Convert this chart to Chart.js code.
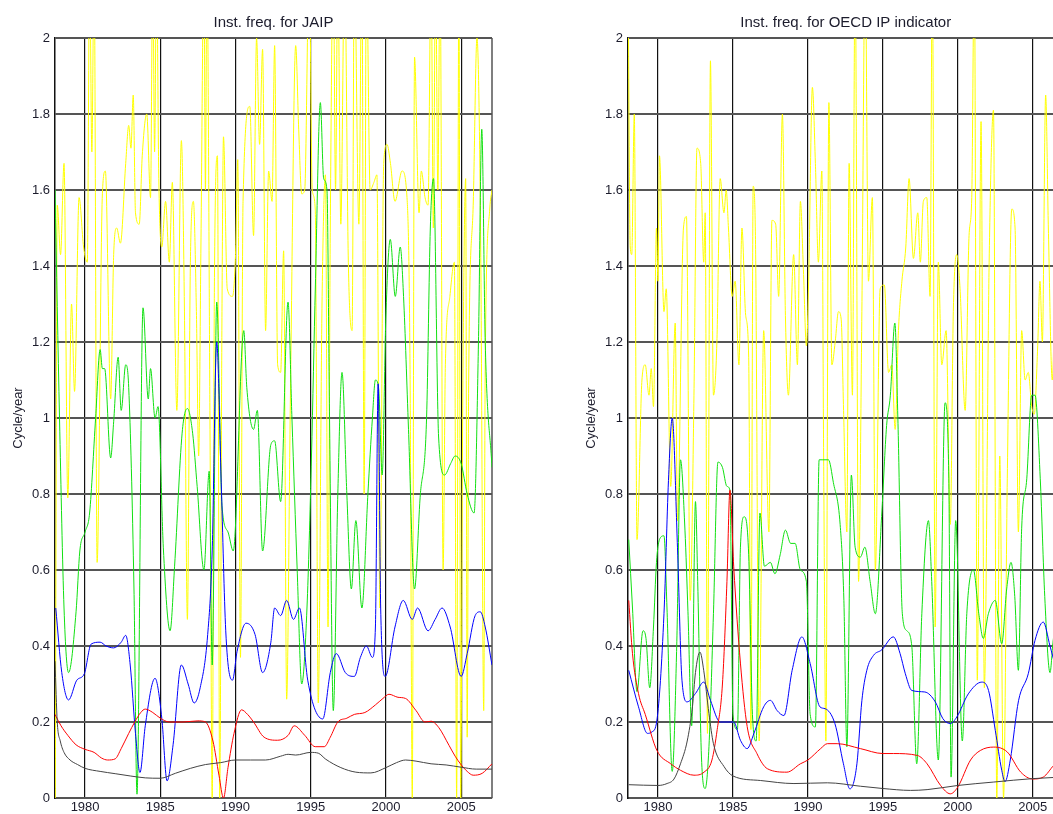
<!DOCTYPE html>
<html>
<head>
<meta charset="utf-8">
<title>Inst. freq.</title>
<script src="https://cdn.jsdelivr.net/npm/chart.js@4.4.1/dist/chart.umd.min.js"></script>
<style>
  html, body { margin: 0; padding: 0; background: #fff; overflow: hidden; }
  body { width: 1053px; height: 814px; position: relative; }
  canvas { position: absolute; top: 0; }
  #jaipChart { left: 0; }
  #oecdChart { left: 560px; }
</style>
</head>
<body>
<canvas id="jaipChart" width="540" height="814"></canvas>
<canvas id="oecdChart" width="540" height="814"></canvas>
<script>
const xTicks = [1980, 1985, 1990, 1995, 2000, 2005];
const yTicks = [0, 0.2, 0.4, 0.6, 0.8, 1, 1.2, 1.4, 1.6, 1.8, 2];

// ---- JAIP (left panel) ----
const jaipBlackYears = [1978.0, 1978.15, 1978.35, 1978.6, 1979.0, 1979.5, 1980.0, 1981.0, 1982.0, 1983.0, 1984.0, 1985.0, 1986.0, 1987.0, 1988.0, 1989.0, 1990.0, 1991.0, 1992.0, 1993.0, 1993.5, 1994.0, 1995.0, 1995.5, 1996.0, 1997.0, 1998.0, 1999.0, 2000.0, 2000.7, 2001.3, 2002.0, 2003.0, 2004.0, 2005.0, 2006.0, 2007.05];
const jaipBlack = [0.36, 0.2, 0.15, 0.12, 0.1, 0.088, 0.078, 0.07, 0.064, 0.058, 0.053, 0.052, 0.065, 0.078, 0.088, 0.093, 0.1, 0.1, 0.1, 0.11, 0.115, 0.113, 0.12, 0.118, 0.102, 0.08, 0.068, 0.066, 0.08, 0.093, 0.1, 0.097, 0.09, 0.087, 0.081, 0.076, 0.076];

const jaipRedYears = [1978.0, 1978.4, 1978.85, 1979.4, 1980.0, 1980.6, 1981.1, 1981.5, 1982.0, 1982.4, 1982.9, 1983.3, 1983.7, 1984.0, 1984.5, 1985.0, 1985.6, 1986.5, 1987.5, 1988.0, 1988.5, 1988.9, 1989.2, 1989.5, 1989.9, 1990.4, 1990.8, 1991.2, 1991.9, 1992.8, 1993.5, 1993.9, 1994.6, 1995.3, 1995.9, 1996.3, 1996.8, 1997.4, 1997.9, 1998.6, 1999.3, 1999.8, 2000.2, 2000.8, 2001.3, 2002.0, 2002.6, 2003.0, 2003.5, 2004.2, 2004.6, 2004.95, 2005.4, 2005.8, 2006.4, 2007.05];
const jaipRed = [0.22, 0.19, 0.165, 0.14, 0.128, 0.12, 0.105, 0.1, 0.103, 0.13, 0.17, 0.2, 0.225, 0.234, 0.225, 0.21, 0.2, 0.2, 0.203, 0.2, 0.15, 0.06, 0.0, 0.08, 0.17, 0.232, 0.22, 0.2, 0.16, 0.152, 0.165, 0.19, 0.165, 0.135, 0.135, 0.16, 0.2, 0.21, 0.22, 0.225, 0.245, 0.262, 0.273, 0.265, 0.262, 0.23, 0.2, 0.202, 0.186, 0.138, 0.11, 0.09, 0.07, 0.06, 0.065, 0.09];

const jaipBlueYears = [1978.05, 1978.45, 1978.9, 1979.45, 1979.95, 1980.4, 1981.0, 1981.4, 1981.9, 1982.4, 1982.7, 1983.0, 1983.35, 1983.65, 1984.0, 1984.65, 1985.1, 1985.45, 1985.85, 1986.4, 1986.85, 1987.25, 1987.65, 1988.15, 1988.45, 1988.75, 1989.05, 1989.35, 1989.8, 1990.1, 1990.7, 1991.3, 1991.8, 1992.35, 1992.6, 1993.0, 1993.4, 1993.85, 1994.25, 1994.8, 1995.8, 1996.3, 1996.7, 1997.3, 1997.9, 1998.3, 1998.7, 1999.1, 1999.3, 1999.48, 1999.65, 1999.95, 2000.6, 2001.15, 2001.75, 2002.1, 2002.8, 2003.27, 2003.73, 2004.27, 2005.0, 2005.4, 2005.93, 2006.27, 2006.6, 2007.05];
const jaipBlue = [0.50, 0.33, 0.258, 0.31, 0.327, 0.405, 0.41, 0.40, 0.395, 0.41, 0.428, 0.35, 0.17, 0.067, 0.19, 0.315, 0.21, 0.045, 0.14, 0.35, 0.30, 0.25, 0.29, 0.43, 0.65, 1.2, 0.83, 0.44, 0.31, 0.385, 0.46, 0.43, 0.33, 0.41, 0.50, 0.48, 0.52, 0.47, 0.50, 0.31, 0.208, 0.33, 0.38, 0.33, 0.32, 0.37, 0.40, 0.37, 0.45, 1.09, 0.5, 0.32, 0.45, 0.52, 0.47, 0.50, 0.44, 0.47, 0.50, 0.45, 0.32, 0.38, 0.48, 0.49, 0.45, 0.35];

const jaipGreenYears = [1978.0, 1978.3, 1978.6, 1978.9, 1979.4, 1979.65, 1980.0, 1980.3, 1980.7, 1981.0, 1981.15, 1981.3, 1981.7, 1981.9, 1982.2, 1982.4, 1982.7, 1982.9, 1983.25, 1983.45, 1983.85, 1984.2, 1984.35, 1984.65, 1984.85, 1985.2, 1985.65, 1985.95, 1986.45, 1986.8, 1987.15, 1987.45, 1987.9, 1988.25, 1988.45, 1988.75, 1989.1, 1989.5, 1989.85, 1990.55, 1990.75, 1991.2, 1991.45, 1991.8, 1992.35, 1992.6, 1993.0, 1993.49, 1993.75, 1994.1, 1994.4, 1994.75, 1995.05, 1995.31, 1995.64, 1995.86, 1996.08, 1996.25, 1996.5, 1996.8, 1997.08, 1997.4, 1997.7, 1998.0, 1998.4, 1998.8, 1999.1, 1999.3, 1999.51, 1999.75, 1999.99, 2000.29, 2000.62, 2000.95, 2001.17, 2001.5, 2001.9, 2002.27, 2002.7, 2002.95, 2003.16, 2003.5, 2003.9, 2004.3, 2004.6, 2005.0, 2005.4, 2005.86, 2006.15, 2006.37, 2006.6, 2007.05];
const jaipGreen = [1.6, 1.0, 0.5, 0.33, 0.49, 0.65, 0.7, 0.75, 1.0, 1.18, 1.13, 1.13, 0.895, 0.99, 1.16, 1.02, 1.14, 1.08, 0.55, 0.01, 1.29, 1.05, 1.13, 1.0, 1.03, 0.66, 0.44, 0.61, 0.96, 1.025, 0.96, 0.82, 0.6, 0.86, 0.35, 1.305, 0.77, 0.7, 0.65, 1.23, 1.08, 0.97, 1.02, 0.65, 0.93, 0.94, 0.78, 1.305, 1.0, 0.6, 0.3, 0.5, 0.9, 1.35, 1.83, 1.63, 1.6, 1.0, 0.23, 0.8, 1.12, 0.8, 0.55, 0.73, 0.5, 0.8, 1.0, 1.1, 1.08, 0.85, 1.26, 1.47, 1.32, 1.45, 1.32, 0.97, 0.55, 0.79, 1.0, 1.5, 1.63, 0.95, 0.85, 0.88, 0.9, 0.88, 0.8, 0.75, 1.2, 1.76, 1.2, 0.87];

const jaipYellowYears = [1978.02, 1978.15, 1978.37, 1978.6, 1978.85, 1979.1, 1979.3, 1979.6, 1979.9, 1980.15, 1980.3, 1980.45, 1980.6, 1980.8, 1981.15, 1981.35, 1981.7, 1981.9, 1982.1, 1982.35, 1982.7, 1982.9, 1983.05, 1983.2, 1983.35, 1983.6, 1983.8, 1984.1, 1984.35, 1984.5, 1984.62, 1984.75, 1984.9, 1985.1, 1985.35, 1985.6, 1985.8, 1986.1, 1986.4, 1986.6, 1986.8, 1987.0, 1987.2, 1987.4, 1987.55, 1987.7, 1987.9, 1988.0, 1988.1, 1988.3, 1988.45, 1988.6, 1988.8, 1988.95, 1989.1, 1989.2, 1989.45, 1989.8, 1990.0, 1990.15, 1990.33, 1990.5, 1990.95, 1991.2, 1991.4, 1991.6, 1991.8, 1992.0, 1992.2, 1992.43, 1992.6, 1992.8, 1993.0, 1993.2, 1993.4, 1993.65, 1994.0, 1994.2, 1994.4, 1994.6, 1994.9, 1995.1, 1995.3, 1995.5, 1995.75, 1995.98, 1996.15, 1996.3, 1996.5, 1996.65, 1996.8, 1997.0, 1997.25, 1997.5, 1997.75, 1997.9, 1998.2, 1998.4, 1998.55, 1998.7, 1998.95, 1999.2, 1999.4, 1999.6, 1999.85, 2000.07, 2000.3, 2000.6, 2001.07, 2001.4, 2001.6, 2001.75, 2001.9, 2002.2, 2002.35, 2002.6, 2002.8, 2003.0, 2003.15, 2003.3, 2003.45, 2003.6, 2003.8, 2003.95, 2004.25, 2004.55, 2004.7, 2004.85, 2004.97, 2005.1, 2005.3, 2005.4, 2005.5, 2005.8, 2006.05, 2006.3, 2006.5, 2006.6, 2006.9, 2007.05];
const jaipYellow = [0.0, 1.56, 1.43, 1.67, 0.79, 1.30, 1.07, 1.58, 1.45, 1.41, 2.2, 1.7, 2.2, 0.62, 1.59, 1.65, 1.05, 1.43, 1.5, 1.46, 1.67, 1.77, 1.71, 1.85, 1.54, 1.51, 1.69, 1.8, 1.58, 2.2, 1.7, 2.2, 1.63, 1.45, 1.57, 1.41, 1.62, 1.02, 1.73, 1.3, 0.47, 1.41, 1.57, 1.28, 0.9, 1.45, 2.2, 1.6, 2.2, 1.0, 0.0, 1.37, 1.69, 0.0, 1.28, 1.74, 1.34, 1.32, 1.43, 1.68, 0.37, 1.57, 1.82, 1.48, 2.0, 1.72, 1.97, 1.23, 1.65, 1.57, 1.98, 1.14, 1.12, 1.44, 0.26, 1.06, 1.98, 1.76, 1.59, 1.6, 2.2, 1.6, 1.55, 0.25, 1.3, 1.64, 0.45, 1.5, 2.2, 1.6, 2.2, 1.51, 2.2, 1.41, 1.23, 2.2, 1.51, 2.2, 0.8, 2.2, 1.6, 1.62, 1.64, 0.5, 1.67, 1.72, 1.67, 1.57, 1.65, 1.58, 1.14, 0.0, 1.95, 1.54, 1.65, 1.58, 1.56, 2.2, 1.5, 2.2, 1.6, 2.2, 0.6, 1.14, 1.32, 1.41, 0.0, 2.2, 0.0, 1.0, 1.63, 0.16, 1.1, 1.56, 2.0, 1.45, 0.23, 1.14, 1.55, 1.6];

// ---- OECD IP indicator (right panel) ----
const oecdBlackYears = [1978.05, 1980.0, 1980.6, 1981.07, 1981.5, 1981.95, 1982.3, 1982.5, 1982.8, 1983.05, 1983.4, 1983.7, 1984.4, 1985.0, 1986.85, 1989.07, 1991.3, 1993.5, 1995.0, 1996.85, 1997.95, 2000.0, 2002.4, 2005.0, 2006.4, 2007.05];
const oecdBlack = [0.035, 0.033, 0.038, 0.05, 0.09, 0.15, 0.24, 0.33, 0.384, 0.336, 0.222, 0.143, 0.083, 0.058, 0.046, 0.038, 0.04, 0.031, 0.025, 0.02, 0.022, 0.033, 0.042, 0.051, 0.054, 0.056];

const oecdRedYears = [1978.05, 1978.3, 1978.7, 1979.15, 1979.93, 1980.85, 1981.5, 1982.4, 1983.07, 1983.6, 1983.95, 1984.3, 1984.6, 1984.8, 1985.05, 1985.5, 1985.95, 1986.6, 1987.3, 1988.6, 1989.5, 1990.0, 1990.85, 1991.3, 1991.95, 1993.5, 1995.0, 1995.7, 1997.3, 1997.95, 1998.85, 1999.5, 2000.0, 2000.85, 2001.5, 2002.4, 2003.3, 2004.2, 2005.0, 2005.7, 2006.4, 2007.05];
const oecdRed = [0.52, 0.38, 0.275, 0.22, 0.125, 0.09, 0.073, 0.06, 0.068, 0.1, 0.18, 0.3, 0.57, 0.81, 0.61, 0.355, 0.188, 0.117, 0.077, 0.068, 0.09, 0.1, 0.13, 0.143, 0.143, 0.13, 0.117, 0.117, 0.112, 0.09, 0.033, 0.011, 0.029, 0.1, 0.125, 0.134, 0.121, 0.068, 0.05, 0.055, 0.086, 0.11];

const oecdBlueYears = [1978.05, 1978.7, 1979.3, 1979.6, 1979.93, 1980.4, 1980.7, 1980.95, 1981.3, 1981.6, 1981.95, 1982.5, 1983.05, 1983.5, 1984.15, 1985.05, 1985.5, 1985.95, 1986.4, 1987.05, 1987.5, 1987.95, 1988.4, 1988.95, 1989.6, 1990.15, 1990.8, 1991.15, 1991.8, 1992.37, 1992.8, 1993.27, 1993.6, 1993.93, 1994.37, 1994.93, 1995.7, 1996.15, 1996.5, 1996.93, 1997.8, 1998.5, 1999.0, 1999.5, 1999.93, 2000.7, 2001.6, 2002.05, 2002.5, 2002.93, 2003.15, 2003.5, 2004.05, 2004.7, 2005.15, 2005.7, 2006.15, 2006.5, 2007.05];
const oecdBlue = [0.336, 0.24, 0.17, 0.174, 0.205, 0.485, 0.836, 1.0, 0.66, 0.31, 0.253, 0.275, 0.305, 0.257, 0.2, 0.2, 0.152, 0.13, 0.17, 0.24, 0.257, 0.23, 0.217, 0.336, 0.424, 0.354, 0.24, 0.235, 0.196, 0.09, 0.024, 0.09, 0.256, 0.336, 0.375, 0.39, 0.424, 0.38, 0.327, 0.283, 0.279, 0.253, 0.209, 0.196, 0.213, 0.274, 0.305, 0.283, 0.178, 0.073, 0.043, 0.1, 0.256, 0.327, 0.415, 0.463, 0.4, 0.35, 0.3];

const oecdGreenYears = [1978.05, 1978.3, 1978.6, 1979.0, 1979.2, 1979.45, 1979.7, 1979.9, 1980.1, 1980.4, 1980.6, 1980.95, 1981.25, 1981.5, 1981.8, 1982.0, 1982.25, 1982.5, 1982.65, 1982.9, 1983.15, 1983.4, 1983.7, 1984.0, 1984.3, 1984.6, 1984.8, 1985.0, 1985.3, 1985.5, 1985.75, 1986.05, 1986.3, 1986.55, 1986.8, 1987.1, 1987.5, 1987.8, 1988.15, 1988.5, 1988.85, 1989.15, 1989.5, 1989.9, 1990.15, 1990.5, 1990.75, 1991.0, 1991.37, 1991.7, 1992.15, 1992.4, 1992.6, 1992.9, 1993.15, 1993.5, 1993.8, 1994.15, 1994.5, 1994.93, 1995.25, 1995.5, 1995.8, 1996.0, 1996.3, 1996.6, 1996.93, 1997.26, 1997.6, 1998.04, 1998.26, 1998.7, 1999.15, 1999.4, 1999.55, 1999.86, 2000.3, 2000.6, 2001.04, 2001.4, 2001.7, 2002.04, 2002.5, 2002.93, 2003.26, 2003.55, 2003.8, 2004.04, 2004.26, 2004.6, 2004.93, 2005.15, 2005.5, 2005.8, 2006.15, 2006.35, 2006.7, 2007.05];
const oecdGreen = [0.68, 0.5, 0.28, 0.44, 0.42, 0.29, 0.45, 0.62, 0.68, 0.69, 0.5, 0.07, 0.4, 0.89, 0.705, 0.49, 0.19, 0.78, 0.57, 0.108, 0.025, 0.135, 0.485, 0.884, 0.87, 0.82, 0.81, 0.22, 0.18, 0.66, 0.74, 0.64, 0.22, 0.15, 0.75, 0.61, 0.62, 0.59, 0.64, 0.705, 0.67, 0.67, 0.6, 0.57, 0.22, 0.187, 0.89, 0.89, 0.89, 0.83, 0.72, 0.52, 0.135, 0.85, 0.66, 0.634, 0.66, 0.57, 0.485, 0.75, 0.98, 1.06, 1.25, 1.0, 0.485, 0.44, 0.4, 0.09, 0.485, 0.73, 0.57, 0.1, 1.04, 0.84, 0.055, 0.73, 0.15, 0.485, 0.6, 0.485, 0.42, 0.485, 0.52, 0.406, 0.55, 0.62, 0.53, 0.336, 0.71, 0.84, 1.06, 1.06, 0.84, 0.53, 0.33, 0.41, 0.5, 0.45];

const oecdYellowYears = [1978.0, 1978.15, 1978.25, 1978.42, 1978.6, 1978.93, 1979.15, 1979.4, 1979.55, 1979.7, 1979.9, 1980.0, 1980.1, 1980.4, 1980.55, 1980.85, 1981.15, 1981.3, 1981.7, 1981.9, 1982.15, 1982.4, 1982.6, 1982.85, 1983.05, 1983.15, 1983.3, 1983.5, 1983.7, 1983.93, 1984.15, 1984.4, 1984.55, 1984.7, 1984.95, 1985.15, 1985.4, 1985.6, 1985.85, 1986.05, 1986.2, 1986.35, 1986.5, 1986.75, 1987.05, 1987.4, 1987.6, 1987.85, 1988.05, 1988.3, 1988.5, 1988.7, 1989.05, 1989.3, 1989.5, 1989.7, 1989.9, 1990.05, 1990.3, 1990.5, 1990.7, 1990.93, 1991.05, 1991.2, 1991.4, 1991.6, 1991.82, 1992.04, 1992.22, 1992.38, 1992.6, 1992.75, 1992.97, 1993.15, 1993.38, 1993.6, 1993.82, 1994.04, 1994.3, 1994.5, 1994.82, 1995.1, 1995.38, 1995.6, 1995.82, 1996.04, 1996.27, 1996.53, 1996.75, 1997.04, 1997.33, 1997.5, 1997.7, 1997.93, 1998.15, 1998.3, 1998.49, 1998.7, 1998.93, 1999.22, 1999.5, 1999.7, 1999.93, 2000.15, 2000.49, 2000.75, 2000.93, 2001.1, 2001.3, 2001.55, 2001.77, 2002.09, 2002.38, 2002.6, 2002.8, 2003.05, 2003.3, 2003.6, 2003.82, 2004.04, 2004.26, 2004.49, 2004.7, 2004.93, 2005.1, 2005.33, 2005.48, 2005.64, 2005.86, 2006.04, 2006.3, 2006.6, 2007.05];
const oecdYellow = [2.2, 1.45, 1.43, 1.8, 0.68, 1.1, 1.14, 1.06, 1.13, 1.03, 1.5, 1.36, 1.69, 1.28, 1.34, 0.82, 1.25, 0.73, 1.5, 1.53, 0.52, 1.06, 1.71, 1.67, 1.41, 1.54, 0.17, 1.94, 1.06, 1.2, 1.63, 1.54, 1.6, 1.5, 1.32, 1.36, 1.14, 1.5, 1.27, 1.16, 0.18, 1.61, 1.48, 0.15, 1.23, 0.7, 1.52, 1.51, 1.32, 1.8, 1.27, 1.06, 1.43, 1.14, 1.57, 1.39, 1.19, 1.36, 1.87, 1.67, 1.41, 1.65, 0.9, 0.15, 1.83, 1.14, 1.2, 1.28, 1.26, 1.02, 0.7, 1.67, 1.06, 2.2, 0.57, 1.28, 2.2, 1.36, 1.58, 0.6, 1.34, 1.35, 1.12, 1.14, 0.97, 1.23, 1.36, 1.45, 1.63, 1.42, 1.54, 1.41, 1.57, 1.58, 1.32, 2.2, 0.45, 1.41, 1.14, 1.23, 0.72, 1.28, 1.43, 1.34, 1.02, 1.48, 1.58, 2.2, 0.31, 1.78, 0.29, 1.41, 1.81, 0.0, 0.9, 0.0, 0.84, 1.55, 1.5, 0.7, 1.23, 1.1, 1.12, 1.03, 1.01, 1.19, 1.36, 1.2, 1.85, 1.5, 1.1, 1.5, 1.2];

const fontFamily = '"Liberation Sans", Arial, sans-serif';
const textColor = '#1c1c2c';

// right edge of the plot box (MATLAB axes frame)
const frame = {
    id: 'frame',
    beforeDatasetsDraw(chart) {
        const { ctx, chartArea: a } = chart;
        ctx.save();
        ctx.strokeStyle = '#555';
        ctx.lineWidth = 1.5;
        ctx.beginPath();
        ctx.moveTo(a.right, a.top);
        ctx.lineTo(a.right, a.bottom);
        ctx.stroke();
        ctx.restore();
    }
};

function line(years, values, color) {
    return {
        data: years.map((x, i) => ({ x: x, y: values[i] })),
        borderColor: color,
        borderWidth: 1,
        pointRadius: 0,
        fill: false,
        cubicInterpolationMode: 'monotone'
    };
}

function makeChart(id, title, datasets, axisWidth, rightPad, labelPad) {
    return new Chart(document.getElementById(id), {
        type: 'line',
        data: { datasets: datasets },
        options: {
            responsive: false,
            animation: false,
            events: [],
            layout: { padding: { left: 0, right: rightPad, top: 0, bottom: 0 } },
            plugins: {
                legend: { display: false },
                tooltip: { enabled: false },
                title: {
                    display: true,
                    text: title,
                    fullSize: false,
                    color: textColor,
                    font: { family: fontFamily, size: 15, weight: 'normal', lineHeight: 1.2 },
                    padding: { top: 14, bottom: 6 }
                }
            },
            scales: {
                x: {
                    type: 'linear',
                    min: 1978,
                    max: 2007.05,
                    afterBuildTicks: axis => { axis.ticks = xTicks.map(v => ({ value: v })); },
                    afterFit: axis => { axis.height = 16; },
                    ticks: {
                        autoSkip: false,
                        maxRotation: 0,
                        padding: 2,
                        color: textColor,
                        font: { family: fontFamily, size: 13 },
                        callback: v => String(v)
                    },
                    grid: { color: '#111', lineWidth: 1.2, drawTicks: false },
                    border: { color: '#555', width: 2 }
                },
                y: {
                    min: 0,
                    max: 2,
                    afterBuildTicks: axis => { axis.ticks = yTicks.map(v => ({ value: v })); },
                    afterFit: axis => { axis.width = axisWidth; },
                    ticks: {
                        autoSkip: false,
                        padding: 5,
                        color: textColor,
                        font: { family: fontFamily, size: 13 },
                        callback: v => String(Math.round(v * 10) / 10)
                    },
                    grid: { color: '#555', lineWidth: 2, drawTicks: false },
                    border: { color: '#111', width: 1.5 },
                    title: {
                        display: true,
                        text: 'Cycle/year',
                        color: textColor,
                        font: { family: fontFamily, size: 13 },
                        padding: { top: labelPad, bottom: 0 }
                    }
                }
            }
        },
        plugins: [frame]
    });
}

document.addEventListener('DOMContentLoaded', () => {
    makeChart('jaipChart', 'Inst. freq. for JAIP', [
        line(jaipBlackYears, jaipBlack, '#444444'),
        line(jaipRedYears, jaipRed, '#ff0000'),
        line(jaipBlueYears, jaipBlue, '#0000ff'),
        line(jaipGreenYears, jaipGreen, '#11e011'),
        line(jaipYellowYears, jaipYellow, '#ffff00')
    ], 55, 48, 11);

    makeChart('oecdChart', 'Inst. freq. for OECD IP indicator', [
        line(oecdBlackYears, oecdBlack, '#444444'),
        line(oecdRedYears, oecdRed, '#ff0000'),
        line(oecdBlueYears, oecdBlue, '#0000ff'),
        line(oecdGreenYears, oecdGreen, '#11e011'),
        line(oecdYellowYears, oecdYellow, '#ffff00')
    ], 68, 36.5, 24);
});
</script>
</body>
</html>
